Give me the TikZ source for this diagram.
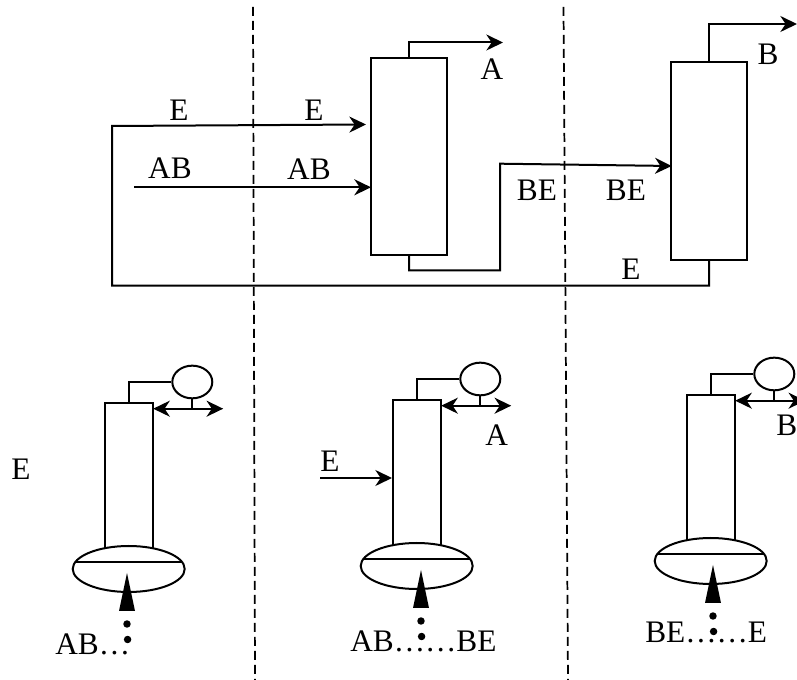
\documentclass[tikz,border=0pt]{standalone}
\usepackage{fontspec}
\setmainfont{Liberation Serif}
\usetikzlibrary{arrows.meta,shapes.geometric}
\tikzset{
  flow/.style={line width=1.5pt, -{Stealth[length=12.5pt,width=12pt,inset=4pt]}},
  twoway/.style={line width=1.5pt, {Stealth[length=12.5pt,width=12pt,inset=4pt]}-{Stealth[length=12.5pt,width=12pt,inset=4pt]}},
  pipe/.style={line width=1.5pt},
  divider/.style={line width=1.3pt, dash pattern=on 6.75pt off 3.75pt},
  tower/.style={draw, line width=1.5pt, fill=white, inner sep=0pt},
  pot/.style={draw, line width=1.5pt, fill=white, ellipse, inner sep=0pt},
  lbl/.style={font=\fontsize{23.5}{26}\selectfont, inner sep=0pt},
  dotty/.style={circle, fill=black, inner sep=0pt, minimum size=5.6pt},
}
\begin{document}
\begin{tikzpicture}[x=0.75pt, y=-0.75pt]
\useasboundingbox (0,0) rectangle (797,680);
% Dividers
\coordinate (d1t) at (253,7); \coordinate (d1b) at (255,680);
\coordinate (d2t) at (563.5,7); \coordinate (d2b) at (568,680);
\draw[divider] (d1t) -- (d1b);
\draw[divider] (d2t) -- (d2b);
% Top row
\node[tower, minimum width=57pt, minimum height=148.2pt] (c1) at (409,156.5) {};
\node[tower, minimum width=57pt, minimum height=148.2pt] (c2) at (708.7,161.2) {};
\coordinate (c1top) at (409,57.5); \coordinate (c1topr) at (409,42.5); \coordinate (aout) at (503,42.5);
\draw[flow] (c1top) -- (c1topr) -- (aout);
\coordinate (c2top) at (708.5,62); \coordinate (c2topr) at (708.5,24); \coordinate (bout) at (797,24);
\draw[flow] (c2top) -- (c2topr) -- (bout);
\coordinate (c1bot) at (409,255.5); \coordinate (c1botd) at (409,270.5); \coordinate (mid1) at (500,270.5);
\coordinate (mid2) at (500,163.7); \coordinate (c2in) at (671.7,166);
\draw[flow] (c1bot) -- (c1botd) -- (mid1) -- (mid2) -- (c2in);
\coordinate (c2bot) at (709,260); \coordinate (c2botd) at (709,285.7); \coordinate (low) at (112,285.7);
\coordinate (lowt) at (112,126); \coordinate (c1e) at (366,124.5);
\draw[flow] (c2bot) -- (c2botd) -- (low) -- (lowt) -- (c1e);
\coordinate (abin) at (134,187.3); \coordinate (c1ab) at (371,187.3);
\draw[flow] (abin) -- (c1ab);
\node[lbl] (la) at (492,69) {A};
\node[lbl] (lb) at (768,54) {B};
\node[lbl] (le1) at (179,110) {E};
\node[lbl] (le2) at (314,110) {E};
\node[lbl] (lab1) at (170,168) {AB};
\node[lbl] (lab2) at (309,169) {AB};
\node[lbl] (lbe1) at (537,190) {BE};
\node[lbl] (lbe2) at (626,190) {BE};
\node[lbl] (le3) at (631,269) {E};
% Bottom row
\foreach \n/\x/\y/\z in {p/128.7/402/127, q/416.7/399/421, r/710.7/394/713}{
  \node[tower, minimum width=36pt, minimum height=112pt, anchor=north] (\n col) at (\x,\y) {};
  \node[pot, minimum width=84pt, minimum height=34.5pt] (\n pot) at (\x,\y+167) {};
  \node[pot, minimum width=30pt, minimum height=24.5pt] (\n cond) at (\x+63.6,\y-20) {};
  \coordinate (\n a) at (\x,\y); \coordinate (\n b) at (\x,\y-20);
  \draw[pipe] (\n a) -- (\n b) -- (\n cond);
  \coordinate (\n c) at (\x-53,\y+160); \coordinate (\n d) at (\x+53,\y+160);
  \draw[pipe] (\n c) -- (\n d);
  \coordinate (\n e) at (\x+24.5,\y+6.7); \coordinate (\n f) at (\x+94.5,\y+6.7);
  \draw[twoway] (\n e) -- (\n f);
  \coordinate (\n g) at (\x+63.6,\y+6.7);
  \draw[pipe] (\n cond) -- (\n g);
  \fill (\z-8,\y+209) -- (\z,\y+171) -- (\z+8,\y+209) -- cycle;
  \node[dotty] (\n dot1) at (\z,\y+222) {};
  \node[dotty] (\n dot2) at (\z+0.6,\y+237.5) {};
}
\node[lbl] (le4) at (21,469) {E};
\node[lbl] (le5) at (330,461.7) {E};
\coordinate (ein) at (320,478); \coordinate (eend) at (392,478);
\draw[flow] (ein) -- (eend);
\node[lbl] (la2) at (496.7,435) {A};
\node[lbl] (lb2) at (786.7,425.5) {B};
\node[lbl, anchor=west] (f1) at (55,644.5) {AB…};
\node[lbl, anchor=west] (f2) at (350,641.7) {AB……BE};
\node[lbl, anchor=west] (f3) at (645,632) {BE……E};
\end{tikzpicture}
\end{document}
